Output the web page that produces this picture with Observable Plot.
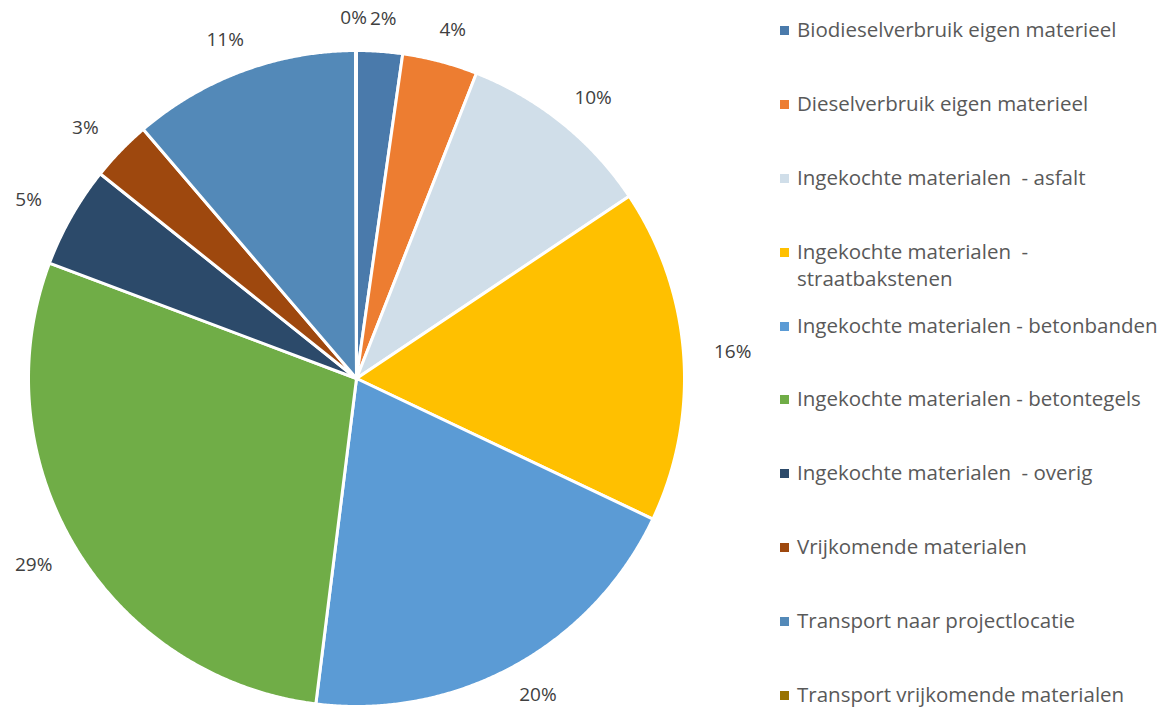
<!DOCTYPE html>
<html><head><meta charset="utf-8">
<script src="https://cdn.jsdelivr.net/npm/d3@7"></script>
<script src="https://cdn.jsdelivr.net/npm/@observablehq/plot@0.6"></script>
<style>
body{margin:0;background:#fff;font-family:"Open Sans", sans-serif;}
#wrap{position:relative;width:1175px;height:707px;overflow:hidden;}
#chart{position:absolute;left:0;top:0;}
#legend{position:absolute;left:780px;top:16px;}
.item{height:73.9px;display:flex;align-items:flex-start;}
.sw{width:9px;height:9px;margin-top:10px;margin-right:8px;flex:none}
.lab{font-size:20.5px;line-height:27px;color:#595959;white-space:pre-wrap;width:386px}
</style></head><body><div id="wrap"><div id="chart"></div><div id="legend"></div></div>
<script>
const categories = [
  "Biodieselverbruik eigen materieel",
  "Dieselverbruik eigen materieel",
  "Ingekochte materialen  - asfalt",
  "Ingekochte materialen  - straatbakstenen",
  "Ingekochte materialen - betonbanden",
  "Ingekochte materialen - betontegels",
  "Ingekochte materialen  - overig",
  "Vrijkomende materialen",
  "Transport naar projectlocatie",
  "Transport vrijkomende materialen"
];
const values = [2.25, 3.7, 9.65, 16.4, 19.9, 28.7, 5.0, 3.0, 11.2, 0.05];
const colors = ["#4a7aab", "#ed7d31", "#d0dee9", "#ffc000", "#5b9bd5", "#70ad47", "#2c4a6a", "#9e480e", "#5389b8", "#997300"];

const data = categories.map((c, i) => ({cat: c, value: values[i]}));
const arcs = d3.pie().sort(null).value(d => d.value).startAngle(0).endAngle(2 * Math.PI)(data);

// slice outlines computed from the pie layout
const pts = [];
for (const a of arcs) {
  const cat = a.data.cat;
  pts.push({cat, x: 0, y: 0});
  const n = Math.max(2, Math.ceil((a.endAngle - a.startAngle) / 0.005));
  for (let k = 0; k <= n; k++) {
    const t = a.startAngle + (a.endAngle - a.startAngle) * k / n;
    pts.push({cat, x: Math.sin(t), y: Math.cos(t)});
  }
  pts.push({cat, x: 0, y: 0});
}
const lrx = 1.15, lry = 1.10;
const labs = arcs.map(a => {
  const t = (a.startAngle + a.endAngle) / 2;
  return {cat: a.data.cat, value: a.data.value, label: Math.round(a.data.value) + "%", x: lrx * Math.sin(t), y: lry * Math.cos(t)};
});

const R = 328, cx = 356, cy = 378;
const plot = Plot.plot({
  width: 770, height: 707,
  x: {domain: [-1, 1], range: [cx - R, cx + R], axis: null},
  y: {domain: [-1, 1], range: [cy + R, cy - R], axis: null},
  color: {domain: categories, range: colors},
  style: {fontFamily: "'Open Sans', sans-serif", background: "white"},
  marks: [
    Plot.line(pts, {x: "x", y: "y", z: "cat", fill: "cat", stroke: "white", strokeWidth: 3, strokeLinejoin: "round", curve: "linear"}),
    Plot.text(labs.filter(d => d.value >= 1), {x: "x", y: "y", text: "label", fill: "#404040", fontSize: 19, textAnchor: "middle"}),
    Plot.text(labs.filter(d => d.value < 1), {x: "x", y: "y", text: "label", fill: "#404040", fontSize: 19, textAnchor: "end", dx: 11})
  ]
});
document.getElementById("chart").appendChild(plot);

const leg = d3.select("#legend");
categories.forEach((c, i) => {
  const it = leg.append("div").attr("class", "item");
  it.append("div").attr("class", "sw").style("background", colors[i]);
  it.append("div").attr("class", "lab").text(c);
});
</script>
</body></html>
